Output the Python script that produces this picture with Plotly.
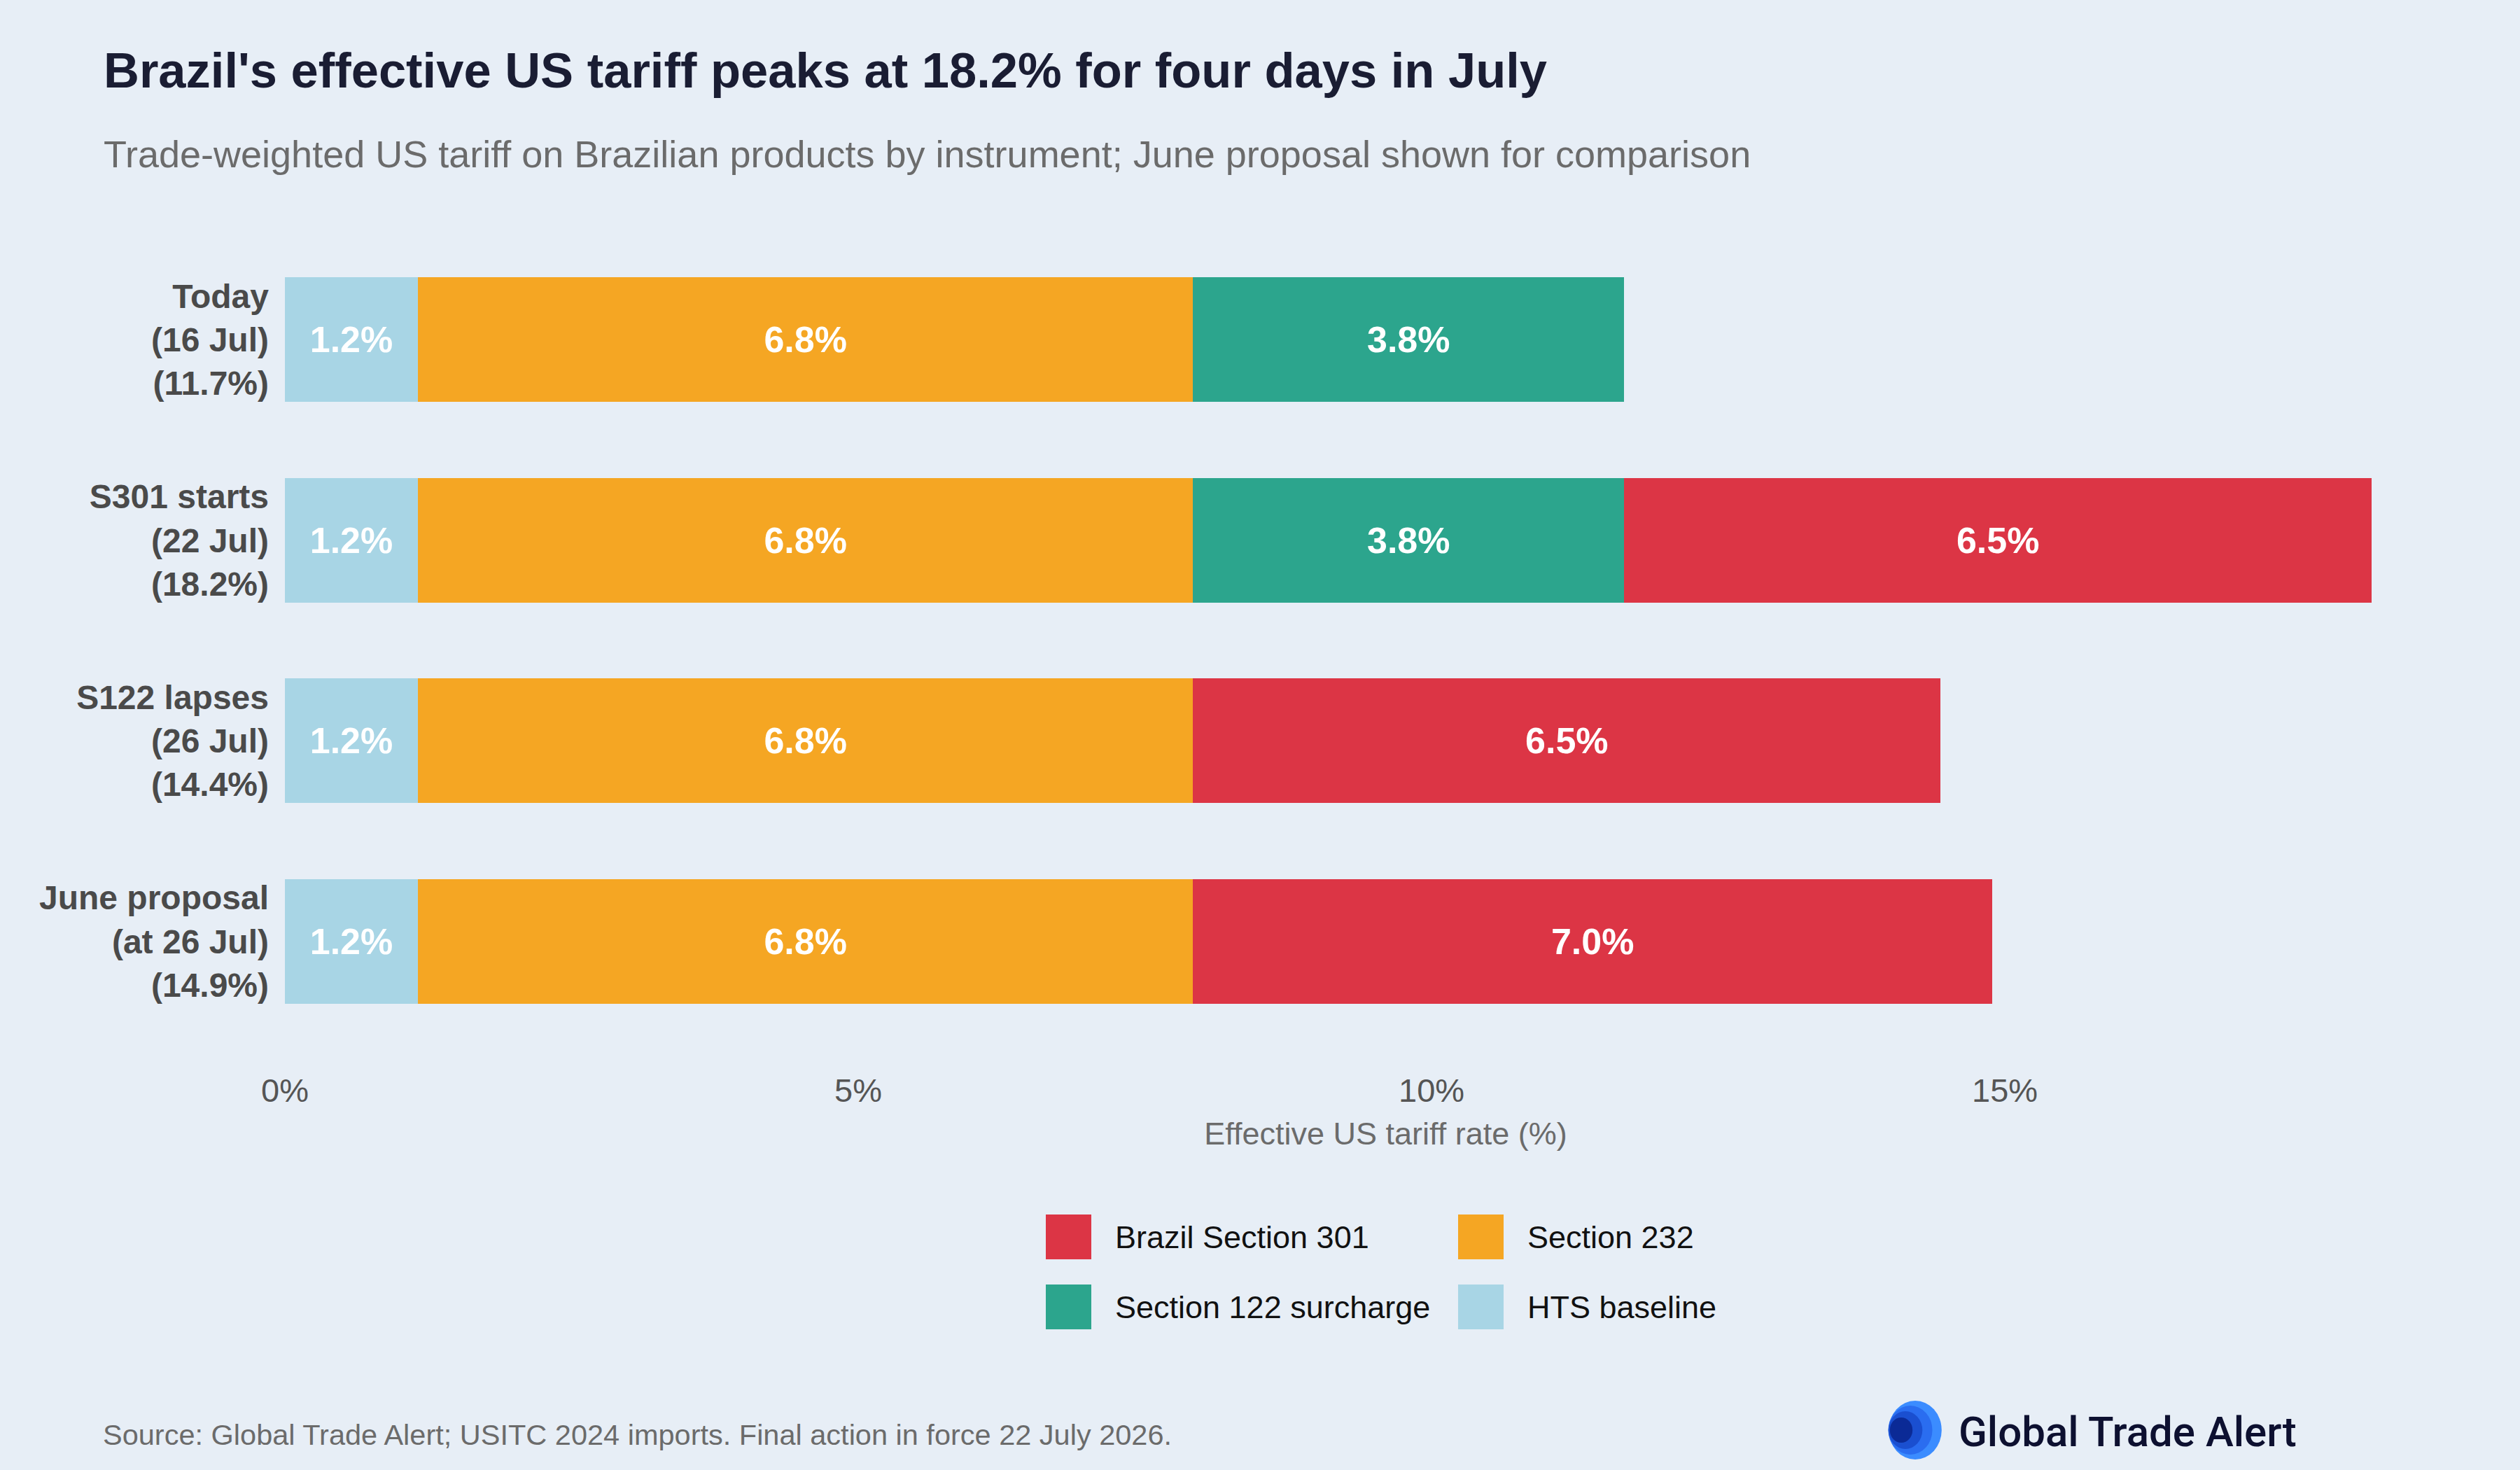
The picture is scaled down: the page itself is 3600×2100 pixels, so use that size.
import plotly.graph_objects as go

# ---------------- data ----------------
scenarios = ["Today<br>(16 Jul)<br>(11.7%)",
             "S301 starts<br>(22 Jul)<br>(18.2%)",
             "S122 lapses<br>(26 Jul)<br>(14.4%)",
             "June proposal<br>(at 26 Jul)<br>(14.9%)"]
hts_baseline = [1.16, 1.16, 1.16, 1.16]
section_232 = [6.76, 6.76, 6.76, 6.76]
section_122 = [3.76, 3.76, 0, 0]
section_301 = [0, 6.52, 6.52, 6.97]
x_ticks = [0, 5, 10, 15]
x_tick_labels = ["0%", "5%", "10%", "15%"]

series_names = ["HTS baseline", "Section 232", "Section 122 surcharge", "Brazil Section 301"]
series_values = [hts_baseline, section_232, section_122, section_301]
series_colors = ["#a8d5e5", "#f5a623", "#2ca58d", "#dc3545"]

BG = "#e7eef6"
FONT = "Liberation Sans, Arial, sans-serif"

# ---------------- geometry helpers (pixel -> paper) ----------------
W, H = 3600, 2100
L, R, T, B = 407, 48, 342, 612
PW, PH = W - L - R, H - T - B


def px(x):
    return (x - L) / PW


def py(y):
    return (H - B - y) / PH


fig = go.Figure()
for name, vals, col in zip(series_names, series_values, series_colors):
    fig.add_trace(go.Bar(
        y=scenarios, x=[v if v > 0 else None for v in vals], name=name, orientation="h",
        marker=dict(color=col, line=dict(width=0)),
        texttemplate="%{x:.1f}%", textposition="inside", insidetextanchor="middle",
        textfont=dict(family=FONT, size=52, color="white", weight="bold"),
        constraintext="none", showlegend=False, hoverinfo="skip",
    ))

annotations = []
shapes = []

# title / subtitle
annotations.append(dict(text="<b>Brazil's effective US tariff peaks at 18.2% for four days in July</b>",
                        x=px(146), y=py(100), xref="paper", yref="paper", xanchor="left", yanchor="middle",
                        showarrow=False, font=dict(family=FONT, size=70.5, color="#1a1d33")))
annotations.append(dict(text="Trade-weighted US tariff on Brazilian products by instrument; June proposal shown for comparison",
                        x=px(146), y=py(220), xref="paper", yref="paper", xanchor="left", yanchor="middle",
                        showarrow=False, font=dict(family=FONT, size=54, color="#6b6b6b")))
# source
annotations.append(dict(text="Source: Global Trade Alert; USITC 2024 imports. Final action in force 22 July 2026.",
                        x=px(145), y=py(2049), xref="paper", yref="paper", xanchor="left", yanchor="middle",
                        showarrow=False, font=dict(family=FONT, size=41.5, color="#6b6b6b")))
# logo
for (cx, r, c) in [(2736, 42, "#3b8cff"), (2729, 35, "#2a6df0"), (2722, 27, "#1a4fd0"), (2716, 18, "#0b2a96")]:
    shapes.append(dict(type="circle", xref="paper", yref="paper", x0=px(cx - r * 0.9), x1=px(cx + r * 0.9),
                       y0=py(2043 + r), y1=py(2043 - r), fillcolor=c, line=dict(width=0), layer="above"))
annotations.append(dict(text="Global Trade Alert", x=px(2796), y=py(2045), xref="paper", yref="paper",
                        xanchor="left", yanchor="middle", showarrow=False,
                        font=dict(family="Roboto, " + FONT, size=60, color="#0d1030", weight=500)))

# manual legend: column-major, reversed trace order
legend_order = list(reversed(range(len(series_names))))
col_x = [1494, 2083]
row_y = [1767, 1867]
for k, idx in enumerate(legend_order):
    col, row = k // 2, k % 2
    sx, sy = col_x[col], row_y[row]
    shapes.append(dict(type="rect", xref="paper", yref="paper", x0=px(sx), x1=px(sx + 65),
                       y0=py(sy + 32), y1=py(sy - 32), fillcolor=series_colors[idx], line=dict(width=0)))
    annotations.append(dict(text=series_names[idx], x=px(sx + 97), y=py(sy), xref="paper", yref="paper",
                            xanchor="left", yanchor="middle", showarrow=False,
                            font=dict(family=FONT, size=45, color="#111111")))

fig.update_layout(
    barmode="stack", bargap=0.38,
    width=W, height=H, autosize=False,
    margin=dict(l=L, r=R, t=T, b=B, pad=0),
    paper_bgcolor=BG, plot_bgcolor=BG,
    showlegend=False,
    annotations=annotations, shapes=shapes,
    uniformtext=dict(mode=False),
    xaxis=dict(range=[0, 19.2], tickvals=x_ticks, ticktext=x_tick_labels, showgrid=False, zeroline=False,
               showline=False, ticks="", ticklabelstandoff=38,
               tickfont=dict(family=FONT, size=47, color="#555555"),
               title=dict(text="Effective US tariff rate (%)", standoff=20,
                          font=dict(family=FONT, size=45, color="#6b6b6b"))),
    yaxis=dict(autorange="reversed", showgrid=False, zeroline=False, showline=False, ticks="",
               ticklabelstandoff=22,
               tickfont=dict(family=FONT, size=48, color="#4a4a4a", weight="bold")),
)

fig.write_html("out.html")
